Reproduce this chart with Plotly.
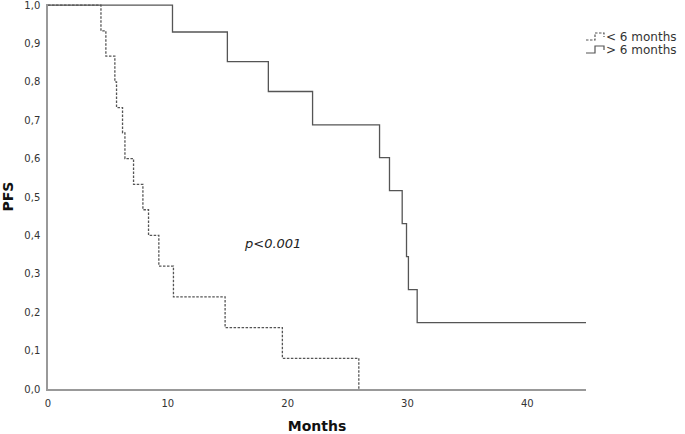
import plotly.graph_objects as go

# Kaplan-Meier step data
months_lt6 = [0, 4.42, 4.83, 5.58, 5.72, 6.22, 6.42, 7.14, 7.92, 8.39, 9.25, 10.47, 14.78, 19.56, 25.94]
pfs_lt6 = [1.0, 0.933, 0.867, 0.8, 0.733, 0.667, 0.6, 0.533, 0.467, 0.4, 0.32, 0.24, 0.16, 0.08, 0.0]

months_gt6 = [0, 10.39, 14.97, 18.39, 22.08, 27.67, 28.5, 29.56, 29.92, 30.08, 30.81, 44.9]
pfs_gt6 = [1.0, 0.93, 0.853, 0.775, 0.688, 0.603, 0.517, 0.431, 0.345, 0.259, 0.173, 0.173]

x_ticks = [0, 10, 20, 30, 40]
y_ticks = [0.0, 0.1, 0.2, 0.3, 0.4, 0.5, 0.6, 0.7, 0.8, 0.9, 1.0]
y_ticklabels = ["0,0", "0,1", "0,2", "0,3", "0,4", "0,5", "0,6", "0,7", "0,8", "0,9", "1,0"]

series_names = ["< 6 months", "> 6 months"]

line_col = "#555555"
axis_col = "#999999"
font_fam = "DejaVu Sans"
dash_pat = "2.5px,1.5px"

fig = go.Figure()
fig.add_trace(go.Scatter(
    x=months_gt6, y=pfs_gt6, mode="lines", line_shape="hv",
    line=dict(color=line_col, width=1.3), name=series_names[1], cliponaxis=False))
fig.add_trace(go.Scatter(
    x=months_lt6, y=pfs_lt6, mode="lines", line_shape="hv",
    line=dict(color=line_col, width=1.3, dash=dash_pat), name=series_names[0], cliponaxis=False))

fig.add_annotation(x=18.7, y=0.379, xref="x", yref="y", text="<i>p<0.001</i>",
                   showarrow=False, font=dict(family=font_fam, size=13, color="#222222"))

# SPSS-style legend: step glyphs + labels, placed relative to the top-right plot corner
legend_rows = [(-33, dash_pat), (-46, "solid")]
for (dy, dash), name in zip(legend_rows, series_names):
    fig.add_shape(type="path", xref="paper", yref="paper", xsizemode="pixel", ysizemode="pixel",
                  xanchor=1.0, yanchor=1.0,
                  path=f"M 0 {dy-3} L 9 {dy-3} L 9 {dy+4} L 18 {dy+4} L 18 {dy}",
                  line=dict(color=line_col, width=1.2, dash=dash))
    fig.add_annotation(x=1.0, y=1.0, xref="paper", yref="paper", xanchor="left", yanchor="middle",
                       xshift=18, yshift=dy, text=name, showarrow=False,
                       font=dict(family=font_fam, size=12, color="#333333"))

fig.update_layout(
    width=685, height=434,
    margin=dict(l=48, r=99, t=4, b=45),
    paper_bgcolor="white", plot_bgcolor="white",
    font=dict(family=font_fam, size=10, color="#333333"),
    showlegend=False,
    xaxis=dict(range=[0, 44.9], tickvals=x_ticks, showgrid=False, zeroline=False,
               showline=True, linecolor=axis_col, linewidth=1.5, ticks="",
               ticklabelstandoff=4, automargin=False,
               title=dict(text="<b>Months</b>", font=dict(family=font_fam, size=14, color="#111111"),
                          standoff=14)),
    yaxis=dict(range=[0, 1.003], tickvals=y_ticks, ticktext=y_ticklabels, showgrid=False,
               zeroline=False, showline=True, linecolor=axis_col, linewidth=1.5, ticks="",
               ticklabelstandoff=4, automargin=False, ticklabeloverflow="allow",
               title=dict(text="<b>PFS</b>", font=dict(family=font_fam, size=14, color="#111111"),
                          standoff=12)),
)

fig.write_html("out.html", config={"displayModeBar": False},
               post_script="document.body.style.margin='0';")
